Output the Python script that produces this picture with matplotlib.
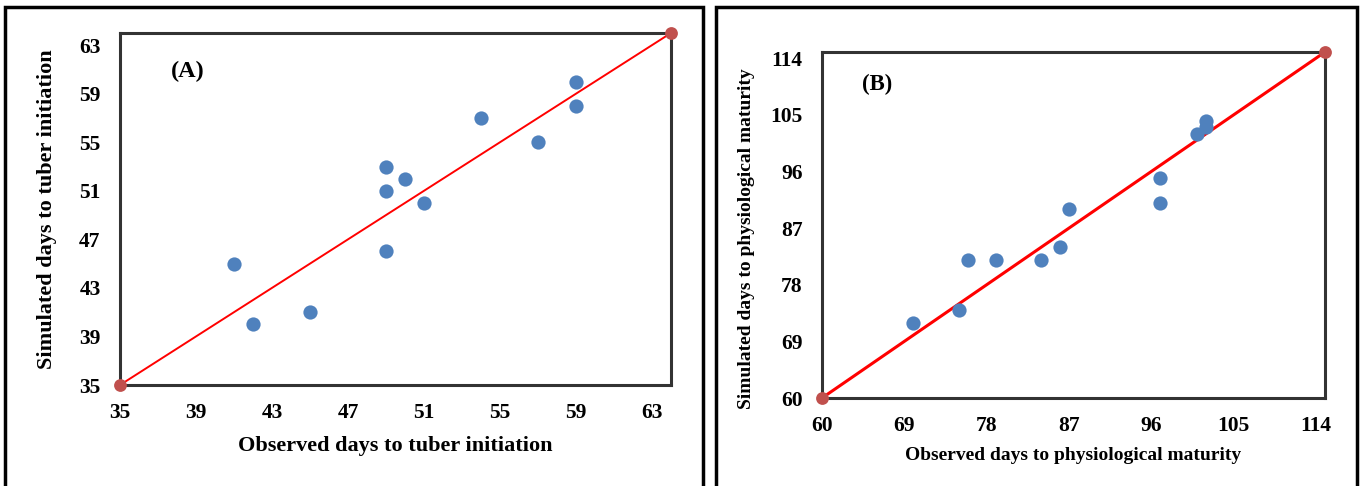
import numpy as np
import matplotlib
matplotlib.use('Agg')
import matplotlib.pyplot as plt
from matplotlib.patches import Rectangle

# --- Data ---
# Panel A: days to tuber initiation
obs_a = [41, 42, 45, 49, 49, 50, 49, 51, 54, 57, 59, 59]
sim_a = [45, 40, 41, 53, 51, 52, 46, 50, 57, 55, 60, 58]
ticks_a = [35, 39, 43, 47, 51, 55, 59, 63]
lim_a = [35, 64]

# Panel B: days to physiological maturity
obs_b = [70, 75, 76, 79, 84, 86, 87, 97, 97, 101, 102, 102]
sim_b = [72, 74, 82, 82, 82, 84, 90, 95, 91, 102, 104, 103]
ticks_b = [60, 69, 78, 87, 96, 105, 114]
lim_b = [60, 115]

plt.rcParams['font.family'] = ['Liberation Serif', 'DejaVu Serif']
plt.rcParams['font.weight'] = 'bold'

W, H = 1361, 486
fig = plt.figure(figsize=(W / 100, H / 100), dpi=100)

# outer frames around each panel
for x0, x1 in [(5, 703), (716, 1357)]:
    fig.patches.append(Rectangle((x0 / W, -0.05), (x1 - x0) / W, (H - 7) / H + 0.05,
                                 transform=fig.transFigure, fill=False,
                                 edgecolor='black', linewidth=2.5))

blue = '#4F81BD'
red = '#FF0000'
endc = '#C0504D'


def panel(rect, obs, sim, ticks, lim, xlabel, ylabel, tag, tag_pos, tick_fs, lab_fs, tag_fs, lw, pads):
    ax = fig.add_axes(rect)
    ax.scatter(obs, sim, s=105, color=blue, zorder=3, linewidths=0)
    ax.plot(lim, lim, color=red, linewidth=lw, zorder=2)
    ax.scatter(lim, lim, s=85, color=endc, zorder=4, clip_on=False, linewidths=0)
    ax.set_xlim(lim)
    ax.set_ylim(lim)
    ax.set_xticks(ticks)
    ax.set_yticks(ticks)
    ax.tick_params(length=0, labelsize=tick_fs)
    ax.tick_params(axis='x', pad=pads[0])
    ax.tick_params(axis='y', pad=pads[1])
    for lbl in ax.get_xticklabels() + ax.get_yticklabels():
        lbl.set_fontweight('bold')
    for sp in ax.spines.values():
        sp.set_linewidth(2.2)
        sp.set_color('#333333')
    ax.set_xlabel(xlabel, fontsize=lab_fs, fontweight='bold', labelpad=pads[2])
    ax.set_ylabel(ylabel, fontsize=lab_fs, fontweight='bold', labelpad=pads[3])
    ax.text(tag_pos[0], tag_pos[1], tag, transform=ax.transAxes, fontsize=tag_fs,
            fontweight='bold', ha='center', va='center')
    return ax


panel([120 / W, 101 / H, 551 / W, 352 / H], obs_a, sim_a, ticks_a, lim_a,
      'Observed days to tuber initiation', 'Simulated days to tuber initiation',
      '(A)', (0.123, 0.89), 15.5, 16, 17.5, 1.4, (13, 14, 9, 16))

ax_b = panel([822 / W, 88 / H, 503 / W, 346 / H], obs_b, sim_b, ticks_b, lim_b,
             'Observed days to physiological maturity', 'Simulated days to physiological maturity',
             '(B)', (0.11, 0.905), 15.5, 14, 16.5, 2.2, (13, 14, 8, 11))
ax_b.yaxis.label.set_y(0.46)

fig.savefig('out.png', dpi=100)
